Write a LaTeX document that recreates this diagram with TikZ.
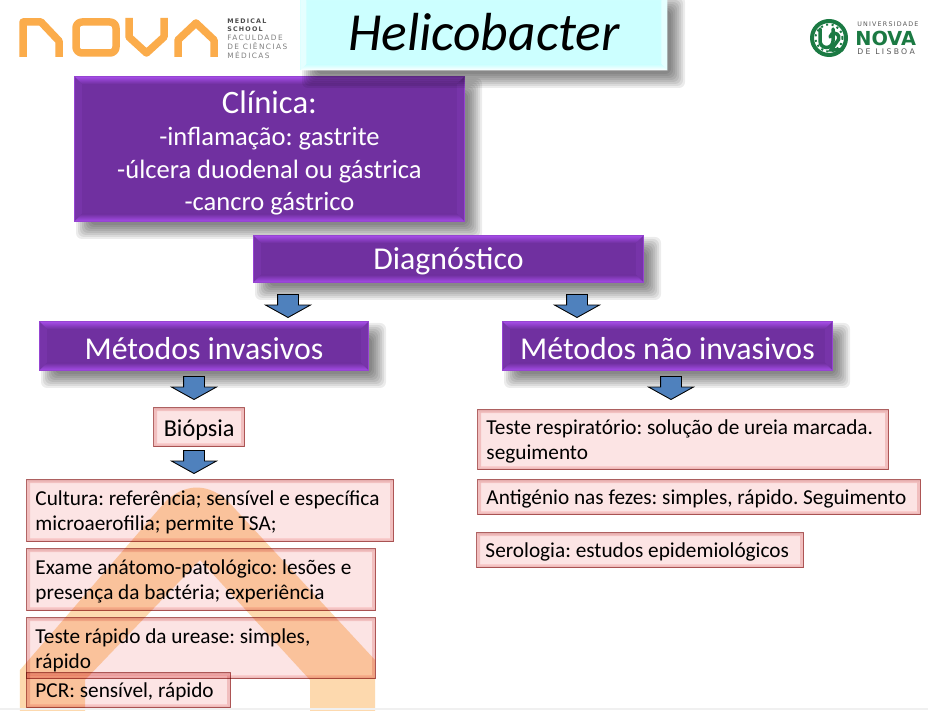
\documentclass[tikz,border=0pt]{standalone}
\usepackage{fontspec}
\setmainfont{Carlito}
\newfontfamily\logofont[LetterSpace=19]{DejaVu Sans}
\newfontfamily\logoheavy{DejaVu Sans}
\usetikzlibrary{shapes.arrows,calc}

\definecolor{novaorange}{HTML}{FBAC4B}
\definecolor{novapale}{HTML}{FDD9AE}
\definecolor{novagreen}{HTML}{1B7A43}
\definecolor{boxpurple}{HTML}{7030A0}
\definecolor{boxlight}{HTML}{A64DE8}
\definecolor{boxpink}{HTML}{FCE4E4}
\definecolor{edgepink}{HTML}{B56C6C}
\definecolor{titlecyan}{HTML}{CCFFFF}
\definecolor{arrowblue}{HTML}{4F81BD}

% blurred shadow: left, top, width, height of the box it belongs to
\newcommand{\softshadow}[4]{
  \foreach \d in {-.12,-.08,...,.16}
    \fill[black, opacity=.075, rounded corners=.12cm]
      (#1+.2-\d,#2-.2+\d) rectangle (#1+#3+.2+\d,#2-#4-.2-\d);
}

\tikzset{
  bevel/.style n args={4}{
    path picture={
      \coordinate (nw) at (path picture bounding box.north west);
      \coordinate (ne) at (path picture bounding box.north east);
      \coordinate (sw) at (path picture bounding box.south west);
      \coordinate (se) at (path picture bounding box.south east);
      \fill[#3] (nw) -- ($(nw)+(#4,-#4)$) -- ($(sw)+(#4,#4)$) -- (sw) -- cycle;
      \fill[#3] (ne) -- ($(ne)+(-#4,-#4)$) -- ($(se)+(-#4,#4)$) -- (se) -- cycle;
      \shade[top color=#1,bottom color=#2] (nw) -- (ne) -- ($(ne)+(-#4,-#4)$) -- ($(nw)+(#4,-#4)$) -- cycle;
      \shade[top color=#2,bottom color=#1] (sw) -- (se) -- ($(se)+(-#4,#4)$) -- ($(sw)+(#4,#4)$) -- cycle;
    }
  }
}

\begin{document}
\begin{tikzpicture}[
    purplebox/.style={anchor=north west, fill=boxpurple, draw=boxlight!70!boxpurple, line width=.5pt, text=white, align=center, inner sep=0pt, bevel={boxlight}{boxpurple}{boxpurple!88!boxlight}{.15cm}, execute at begin node=\rule{0pt}{15.5pt}},
    pinkbox/.style={anchor=north west, fill=boxpink, draw=edgepink, line width=.8pt, align=flush left, inner xsep=5pt, inner ysep=0pt, bevel={edgepink!30!boxpink}{boxpink}{boxpink!88!edgepink}{.07cm}, font=\fontsize{12.1}{14.2}\selectfont\frenchspacing, execute at begin node=\rule{0pt}{10.5pt}},
    downarrow/.style={single arrow, draw=black, line width=.5pt, fill=arrowblue, rotate=-90, anchor=tip, minimum width=.88cm, minimum height=.46cm, single arrow head extend=.24cm, single arrow tip angle=122, inner xsep=0pt, inner ysep=.2cm},
    logoletter/.style={draw=novaorange, line width=.15cm, line join=round},
    logotext/.style={text=#1, inner sep=0pt, anchor=west, font=\logofont\fontsize{3.6}{4}\selectfont},
    sealmark/.style={draw=novagreen, line width=.07cm, line cap=round}
  ]
    \useasboundingbox (0,0) rectangle (18.56,14.2);
    \fill[white] (0,0) rectangle (18.56,14.2);

    % Orange mark behind the boxes
    \fill[novapale] (.4,-.5) -- (.4,.8) -- (3.3,4.16) .. controls (3.7,4.55) and (4.2,4.55) .. (4.6,4.13)
      -- (7.5,1) -- (7.5,-.5) -- (6.2,-.5) -- (6.2,.6) -- (4,3) -- (1.7,.6) -- (1.7,-.5) -- cycle;
    \fill[black!6] (0,0) rectangle (18.56,.04);

    % Left logo
    \draw[logoletter] (.46,13.06) -- (.46,13.76) -- (.82,13.76) -- (1.18,13.38) -- (1.18,13.06);
    \draw[logoletter, rounded corners=.12cm] (1.52,13.14) rectangle (2.32,13.76);
    \draw[logoletter] (2.58,13.84) -- (2.58,13.46) -- (2.93,13.14) -- (3.28,13.46) -- (3.28,13.84);
    \draw[logoletter] (3.56,13.06) -- (3.56,13.4) -- (3.92,13.74) -- (4.28,13.4) -- (4.28,13.06);
    \node[logotext=black!70] (medical) at (4.54,13.78) {\textbf{MEDICAL}};
    \node[logotext=black!70] (school) at (4.54,13.61) {\textbf{SCHOOL}};
    \node[logotext=black!50, font=\logofont\fontsize{4.2}{5}\selectfont] (faculdade) at (4.54,13.44) {FACULDADE};
    \node[logotext=black!50, font=\logofont\fontsize{4.2}{5}\selectfont] (ciencias) at (4.54,13.27) {DE CIÊNCIAS};
    \node[logotext=black!50, font=\logofont\fontsize{4.2}{5}\selectfont] (medicas) at (4.54,13.1) {MÉDICAS};

    % Right logo
    \draw[novagreen, line width=.08cm] (16.58,13.44) circle (.34);
    \draw[novagreen, line width=.04cm, dotted] (16.58,13.44) circle (.27);
    \draw[sealmark] (16.4,13.62) -- (16.4,13.38) arc[start angle=180, end angle=360, radius=.13] -- (16.66,13.62);
    \draw[sealmark] (16.6,13.46) arc[start angle=170, end angle=-20, radius=.09] -- (16.62,13.2) -- (16.84,13.2);
    \node[logotext=black!65] (univ) at (17.14,13.72) {UNIVERSIDADE};
    \node[logotext=novagreen, font=\logoheavy\bfseries\fontsize{11}{12}\selectfont] (nova) at (17.1,13.44) {NOVA};
    \node[logotext=black!65, font=\logofont\fontsize{4.4}{5}\addfontfeature{LetterSpace=30}] (lisboa) at (17.14,13.16) {DE LISBOA};

    % Purple boxes
    \softshadow{1.48}{12.68}{7.8}{2.9}
    \node[purplebox, minimum width=7.8cm, minimum height=2.9cm, font=\fontsize{15.1}{18.4}\selectfont\frenchspacing] (clinica) at (1.48,12.68)
      {{\fontsize{18.6}{22}\selectfont\rule{0pt}{17.3pt}Clínica:}\\-inflamação: gastrite\\-úlcera duodenal ou gástrica\\-cancro gástrico};

    % Title
    \softshadow{6}{14.32}{7.34}{1.52}
    \node[anchor=north west, fill=titlecyan, inner sep=0pt, minimum width=7.34cm, minimum height=1.52cm,
          bevel={white}{titlecyan}{titlecyan!50!white}{.12cm}, font=\fontsize{30.5}{32}\selectfont\itshape] (title) at (6,14.32) {Helicobacter};

    \softshadow{5.06}{9.5}{7.8}{.94}
    \node[purplebox, minimum width=7.8cm, minimum height=.94cm, font=\fontsize{18.1}{20}\selectfont] (diag) at (5.06,9.5) {Diagnóstico};
    \softshadow{.78}{7.78}{6.58}{.98}
    \node[purplebox, minimum width=6.58cm, minimum height=.98cm, font=\fontsize{18.1}{20}\selectfont] (invasivos) at (.78,7.78) {Métodos invasivos};
    \softshadow{10.04}{7.78}{6.6}{.98}
    \node[purplebox, minimum width=6.6cm, minimum height=.98cm, font=\fontsize{18.1}{20}\selectfont] (naoinvasivos) at (10.04,7.78) {Métodos não invasivos};

    % Arrows
    \node[downarrow] (a1) at (5.76,7.84) {};
    \node[downarrow] (a2) at (11.54,7.84) {};
    \node[downarrow] (a3) at (3.88,6.2) {};
    \node[downarrow] (a4) at (13.42,6.2) {};
    \node[downarrow] (a5) at (3.88,4.72) {};

    \begin{scope}[blend mode=multiply]
      % Left column
      \node[pinkbox, text width=7.34cm-10pt, minimum height=1.24cm] (cultura) at (.52,4.62)
        {Cultura: referência; sensível e específica\\microaerofilia; permite TSA;};
      \node[pinkbox, text width=6.98cm-10pt, minimum height=1.24cm] (exame) at (.52,3.24)
        {Exame anátomo-patológico: lesões e\\presença da bactéria; experiência};
      \node[pinkbox, text width=6.98cm-10pt, minimum height=1.22cm] (urease) at (.52,1.86)
        {Teste rápido da urease: simples,\\rápido};
      \node[pinkbox, text width=4.08cm-10pt, minimum height=.7cm] (pcr) at (.52,.76) {PCR: sensível, rápido};
      \node[pinkbox, align=center, inner xsep=0pt, minimum width=1.82cm, minimum height=.78cm, font=\fontsize{13.8}{16}\selectfont, execute at begin node=\rule{0pt}{12.5pt}] (biopsia) at (3.06,6.06) {Biópsia};

      % Right column
      \node[pinkbox, text width=8.22cm-10pt, minimum height=1.2cm] (resp) at (9.54,6.02)
        {Teste respiratório: solução de ureia marcada.\\seguimento};
      \node[pinkbox, text width=8.86cm-10pt, minimum height=.7cm] (antigenio) at (9.54,4.62)
        {Antigénio nas fezes: simples, rápido. Seguimento};
      \node[pinkbox, text width=6.54cm-10pt, minimum height=.7cm] (serologia) at (9.52,3.56)
        {Serologia: estudos epidemiológicos};
    \end{scope}
\end{tikzpicture}
\end{document}
